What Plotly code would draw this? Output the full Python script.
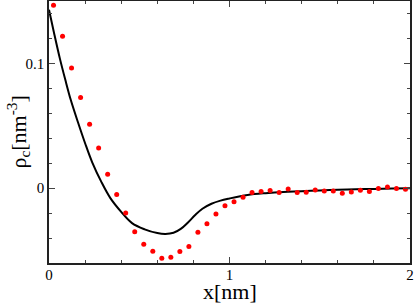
import plotly.graph_objects as go

# simulation points (red dots)
x_pts = [0.025 + 0.05 * i for i in range(40)]
y_pts = [0.1465, 0.1218, 0.0963, 0.0726, 0.0513, 0.0322, 0.0112, -0.0051,
         -0.0200, -0.0349, -0.0450, -0.0506, -0.0562, -0.0554, -0.0508, -0.0468,
         -0.0354, -0.0285, -0.0208, -0.0141, -0.0109, -0.0072, -0.0035, -0.0027,
         -0.0019, -0.0035, -0.0006, -0.0035, -0.0032, -0.0015, -0.0022, -0.0022,
         -0.0040, -0.0030, -0.0016, -0.0027, -0.0003, 0.0010, -0.0003, -0.0008]

# theory curve (black line)
x_curve = [0, 0.03, 0.06, 0.09, 0.12, 0.16, 0.2, 0.24, 0.29, 0.34, 0.4, 0.46,
           0.53, 0.6, 0.645, 0.69, 0.73, 0.77, 0.81, 0.85, 0.9, 0.95, 1.0, 1.1,
           1.2, 1.3, 1.4, 1.5, 1.6, 1.7, 1.8, 1.9, 2.0]
y_curve = [0.143, 0.123, 0.104, 0.087, 0.071, 0.053, 0.036, 0.0205, 0.005,
           -0.008, -0.019, -0.028, -0.033, -0.036, -0.0367, -0.0358, -0.0327,
           -0.0275, -0.0215, -0.0165, -0.0125, -0.0100, -0.0083, -0.0055,
           -0.0040, -0.0030, -0.0025, -0.0018, -0.0013, -0.0009, -0.0006,
           -0.0003, 0.0]

FONT = "Liberation Serif, Times New Roman, serif"

fig = go.Figure()
fig.add_trace(go.Scatter(x=x_curve, y=y_curve, mode="lines",
                         line=dict(color="black", width=2, shape="spline", smoothing=1),
                         showlegend=False, hoverinfo="skip"))
fig.add_trace(go.Scatter(x=x_pts, y=y_pts, mode="markers",
                         marker=dict(color="#ff0000", size=5),
                         showlegend=False))

axis_common = dict(
    showgrid=False, zeroline=False, showline=True, linecolor="#222222", linewidth=1.5,
    mirror="ticks", ticks="inside", tickcolor="#444444", tickwidth=1, ticklen=6,
    tickfont=dict(family=FONT, size=15, color="black"), automargin=False,
)

fig.update_xaxes(range=[0, 2], tick0=0, dtick=1, ticklabeloverflow="allow",
                 ticklabelstandoff=-3,
                 minor=dict(dtick=0.2, ticks="inside", ticklen=3, tickcolor="#444444"),
                 **axis_common)
fig.update_yaxes(range=[-0.06, 0.15], tick0=0, dtick=0.1, ticklabelstandoff=0,
                 minor=dict(dtick=0.02, ticks="inside", ticklen=3, tickcolor="#444444"),
                 **axis_common)

fig.add_annotation(text="x[nm]", xref="paper", yref="paper", x=0.5, y=-0.108,
                   xanchor="center", yanchor="middle", showarrow=False,
                   font=dict(family=FONT, size=22, color="black"))
fig.add_annotation(text="ρ<sub>c</sub>[nm<sup>-3</sup>]", xref="paper", yref="paper",
                   x=-0.087, y=0.5, xanchor="center", yanchor="middle", textangle=-90,
                   showarrow=False, font=dict(family=FONT, size=22, color="black"))

fig.update_layout(width=415, height=304, plot_bgcolor="white", paper_bgcolor="white",
                  margin=dict(l=49, r=5, t=1, b=41), showlegend=False)

fig.write_html("out.html", config={"displayModeBar": False},
               post_script="document.body.style.margin='0';document.body.style.overflow='hidden';")
